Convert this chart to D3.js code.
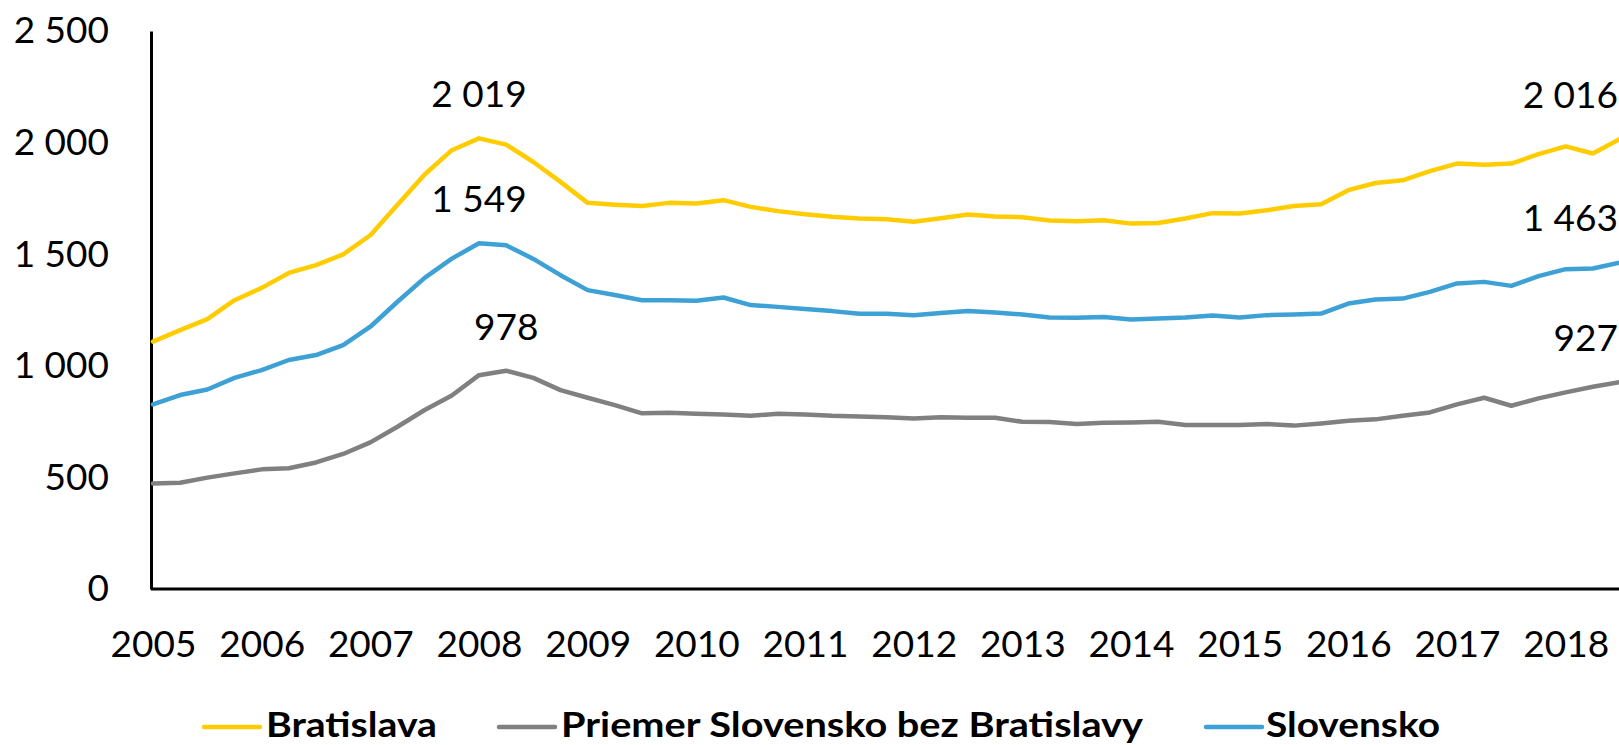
<!DOCTYPE html>
<html>
<head>
<meta charset="utf-8">
<script src="https://cdn.jsdelivr.net/npm/d3@7"></script>
<style>
  body { margin: 0; background: #ffffff; overflow: hidden; }
  text { font-family: Lato, "Open Sans", sans-serif; }
</style>
</head>
<body>
<script>
let width = 1619
let height = 745

// tick labels of the category axis (one per year, data is quarterly)
let years = ["2005", "2006", "2007", "2008", "2009", "2010", "2011", "2012", "2013", "2014", "2015", "2016", "2017", "2018"]
let yTicks = [0, 500, 1000, 1500, 2000, 2500]

// 2005 Q1 ... 2018 Q3
let bratislava = [1108, 1160, 1209, 1294, 1349, 1416, 1451, 1499, 1585, 1722, 1857, 1966,
  2019, 1991, 1913, 1824, 1730, 1722, 1716, 1730, 1727, 1742, 1712, 1693,
  1679, 1668, 1660, 1657, 1645, 1661, 1678, 1669, 1666, 1651, 1648, 1652,
  1637, 1640, 1660, 1684, 1682, 1697, 1716, 1724, 1787, 1819, 1831, 1872,
  1906, 1901, 1906, 1948, 1983, 1951, 2016]

let priemer = [473, 476, 499, 518, 536, 541, 567, 605, 657, 727, 802, 867,
  958, 978, 946, 891, 857, 824, 787, 790, 785, 782, 776, 785,
  782, 776, 773, 770, 764, 770, 767, 767, 749, 748, 739, 745,
  746, 749, 735, 735, 735, 739, 732, 742, 754, 760, 776, 791,
  827, 857, 821, 854, 881, 906, 927]

let slovensko = [827, 869, 894, 946, 981, 1026, 1048, 1093, 1175, 1287, 1394, 1480,
  1549, 1540, 1479, 1406, 1339, 1317, 1294, 1294, 1291, 1306, 1272, 1264,
  1254, 1245, 1233, 1233, 1227, 1237, 1246, 1239, 1230, 1216, 1215, 1219,
  1207, 1212, 1216, 1225, 1216, 1227, 1230, 1234, 1279, 1297, 1301, 1331,
  1369, 1376, 1358, 1402, 1433, 1436, 1463]

let seriesNames = ["Bratislava", "Priemer Slovensko bez Bratislavy", "Slovensko"]
let seriesColors = ["#FFCC00", "#808080", "#3EA1D6"]

let series = [
  { name: seriesNames[0], values: bratislava, color: seriesColors[0] },
  { name: seriesNames[1], values: priemer, color: seriesColors[1] },
  { name: seriesNames[2], values: slovensko, color: seriesColors[2] }
]

let fontSize = 37
let n = bratislava.length

let svg = d3.select("body")
  .append("svg")
  .attr("width", width)
  .attr("height", height)

let x = d3.scaleLinear()
  .domain([0, n - 1])
  .range([153, 1620])

let y = d3.scaleLinear()
  .domain([0, 2500])
  .range([589, 31])

let fmt = d3.formatLocale({ decimal: ",", thousands: " ", grouping: [3], currency: ["", ""] }).format(",d")

// y axis
let yAxis = svg.append("g")
  .attr("transform", "translate(151,0)")
  .call(d3.axisLeft(y).tickValues(yTicks).tickSize(0).tickSizeOuter(0).tickPadding(42).tickFormat(fmt))
yAxis.select(".domain").attr("stroke", "#000").attr("stroke-width", 3)
yAxis.selectAll("text")
  .attr("font-size", fontSize)
  .attr("font-family", "Lato")
  .attr("fill", "#000")

// x axis
let xTickIdx = years.map((d, i) => i * 4)
let xAxis = svg.append("g")
  .attr("transform", "translate(0,589)")
  .call(d3.axisBottom(x).tickValues(xTickIdx).tickSize(0).tickSizeOuter(0).tickPadding(42)
    .tickFormat(d => years[d / 4]))
xAxis.select(".domain").attr("stroke", "#000").attr("stroke-width", 3)
  .attr("d", "M151,0H1625")
xAxis.selectAll("text")
  .attr("font-size", fontSize)
  .attr("font-family", "Lato")
  .attr("fill", "#000")

// lines
let line = d3.line()
  .x((d, i) => x(i))
  .y(d => y(d))

svg.selectAll(".series")
  .data(series)
  .enter()
  .append("path")
  .attr("class", "series")
  .attr("d", d => line(d.values))
  .attr("fill", "none")
  .attr("stroke", d => d.color)
  .attr("stroke-width", 4.5)
  .attr("stroke-linejoin", "round")
  .attr("stroke-linecap", "round")

// data labels: peak and last point, kept inside the chart area like Excel does
series.forEach(s => {
  let peak = s.values.indexOf(d3.max(s.values))
  let last = s.values.length - 1;
  [peak, last].forEach(i => {
    let t = svg.append("text")
      .attr("font-size", fontSize)
      .attr("fill", "#000")
      .attr("text-anchor", "middle")
      .attr("y", y(s.values[i]) - 31)
      .text(fmt(s.values[i]))
    let w = t.node().getComputedTextLength()
    let cx = Math.min(x(i), width - 1 - w / 2)
    t.attr("x", cx)
  })
})

// legend
let legendItems = [
  { line: [204, 260], text: 266, textEnd: 437 },
  { line: [499, 555], text: 561, textEnd: 1143 },
  { line: [1206, 1262], text: 1266, textEnd: 1440 }
]
let legendY = 727

series.forEach((s, i) => {
  let it = legendItems[i]
  svg.append("line")
    .attr("x1", it.line[0]).attr("x2", it.line[1])
    .attr("y1", legendY).attr("y2", legendY)
    .attr("stroke", s.color)
    .attr("stroke-width", 4.5)
    .attr("stroke-linecap", "round")
  svg.append("text")
    .attr("x", it.text)
    .attr("y", 737)
    .attr("font-size", 35)
    .attr("font-weight", "bold")
    .attr("fill", "#000")
    .attr("textLength", it.textEnd - it.text)
    .attr("lengthAdjust", "spacingAndGlyphs")
    .text(s.name)
})
</script>
</body>
</html>
